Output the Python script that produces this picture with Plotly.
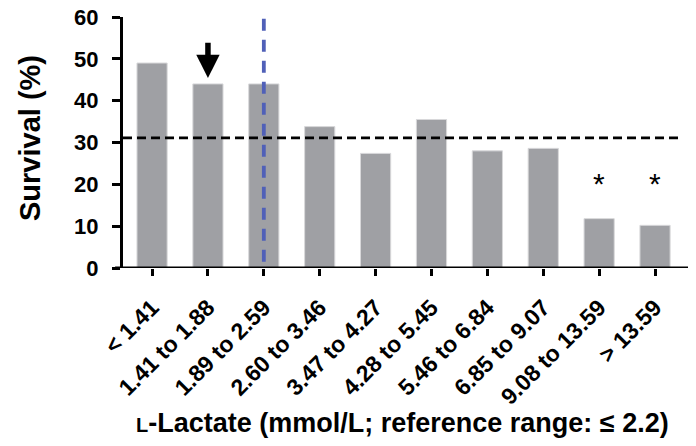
import plotly.graph_objects as go

categories = ["< 1.41", "1.41 to 1.88", "1.89 to 2.59", "2.60 to 3.46", "3.47 to 4.27",
              "4.28 to 5.45", "5.46 to 6.84", "6.85 to 9.07", "9.08 to 13.59", "> 13.59"]
survival = [49.0, 44.0, 44.0, 33.8, 27.4, 35.5, 28.0, 28.6, 11.8, 10.2]
overall_survival = 31.1
reference_cat_index = 2
arrow_cat_index = 1
significant_idx = [8, 9]
y_ticks = [0, 10, 20, 30, 40, 50, 60]
x_title = "<span style='font-size:20px'>L</span>-Lactate (mmol/L; reference range: ≤ 2.2)"
y_title = "Survival (%)"

FONT = "Liberation Sans, Arial, sans-serif"
xpos = list(range(len(categories)))

fig = go.Figure()
fig.add_trace(go.Bar(
    x=xpos, y=survival, width=0.54,
    marker=dict(color="#9FA0A4", line=dict(color="#D8D8DA", width=1)),
    showlegend=False, hoverinfo="skip",
))

# horizontal dashed line (overall survival)
fig.add_shape(type="line", xref="x", yref="y", x0=-0.52, x1=9.5,
              y0=overall_survival, y1=overall_survival,
              line=dict(color="black", width=2.6, dash="9px,5px"), layer="above")
# vertical dashed blue line (reference range)
fig.add_shape(type="line", xref="x", yref="y", x0=reference_cat_index, x1=reference_cat_index,
              y0=1.5, y1=59.8,
              line=dict(color="#5060B8", width=3.8, dash="12px,9px"), layer="above")
# x axis line extending a little left of y-axis
fig.add_shape(type="line", xref="paper", yref="y", x0=-0.014, x1=1, y0=0, y1=0,
              line=dict(color="black", width=3), layer="above")

# arrow
fig.add_annotation(x=arrow_cat_index, y=45.4, ax=arrow_cat_index, ay=54.2,
                   xref="x", yref="y", axref="x", ayref="y",
                   showarrow=True, arrowhead=2, arrowsize=0.85, arrowwidth=5.5,
                   arrowcolor="black", text="")
for i in significant_idx:
    fig.add_annotation(x=i, y=20.8, xref="x", yref="y", text="*", showarrow=False,
                       font=dict(family=FONT, size=30, color="black"), yanchor="middle", yshift=-3)

# axis titles
fig.add_annotation(x=0.495, y=-0.6175, xref="paper", yref="paper", text=x_title,
                   showarrow=False, xanchor="center", yanchor="middle",
                   font=dict(family=FONT, size=27, color="black", weight="bold"))
fig.add_annotation(x=-0.1646, y=0.518, xref="paper", yref="paper", text=y_title,
                   showarrow=False, xanchor="center", yanchor="middle", textangle=-90,
                   font=dict(family=FONT, size=29, color="black", weight="bold"))

fig.update_layout(
    width=696, height=446,
    margin=dict(l=123, r=8, t=17, b=178),
    plot_bgcolor="white", paper_bgcolor="white",
    font=dict(family=FONT, color="black"),
    xaxis=dict(
        range=[-0.52, 9.59], tickmode="array", tickvals=xpos, ticktext=categories,
        tickangle=-45, ticks="outside", ticklen=7, tickwidth=3, tickcolor="black",
        tickfont=dict(family=FONT, size=23, color="black", weight="bold"),
        ticklabelstandoff=9, automargin=False,
        showline=False, showgrid=False, zeroline=False,
    ),
    yaxis=dict(
        range=[0, 60], tickmode="array", tickvals=y_ticks,
        ticks="outside", ticklen=8, tickwidth=3, tickcolor="black",
        tickfont=dict(family=FONT, size=22, color="black", weight="bold"),
        ticklabelstandoff=9,
        showline=True, linewidth=3, linecolor="black", automargin=False,
        showgrid=False, zeroline=False,
    ),
)

fig.write_html("out.html")
